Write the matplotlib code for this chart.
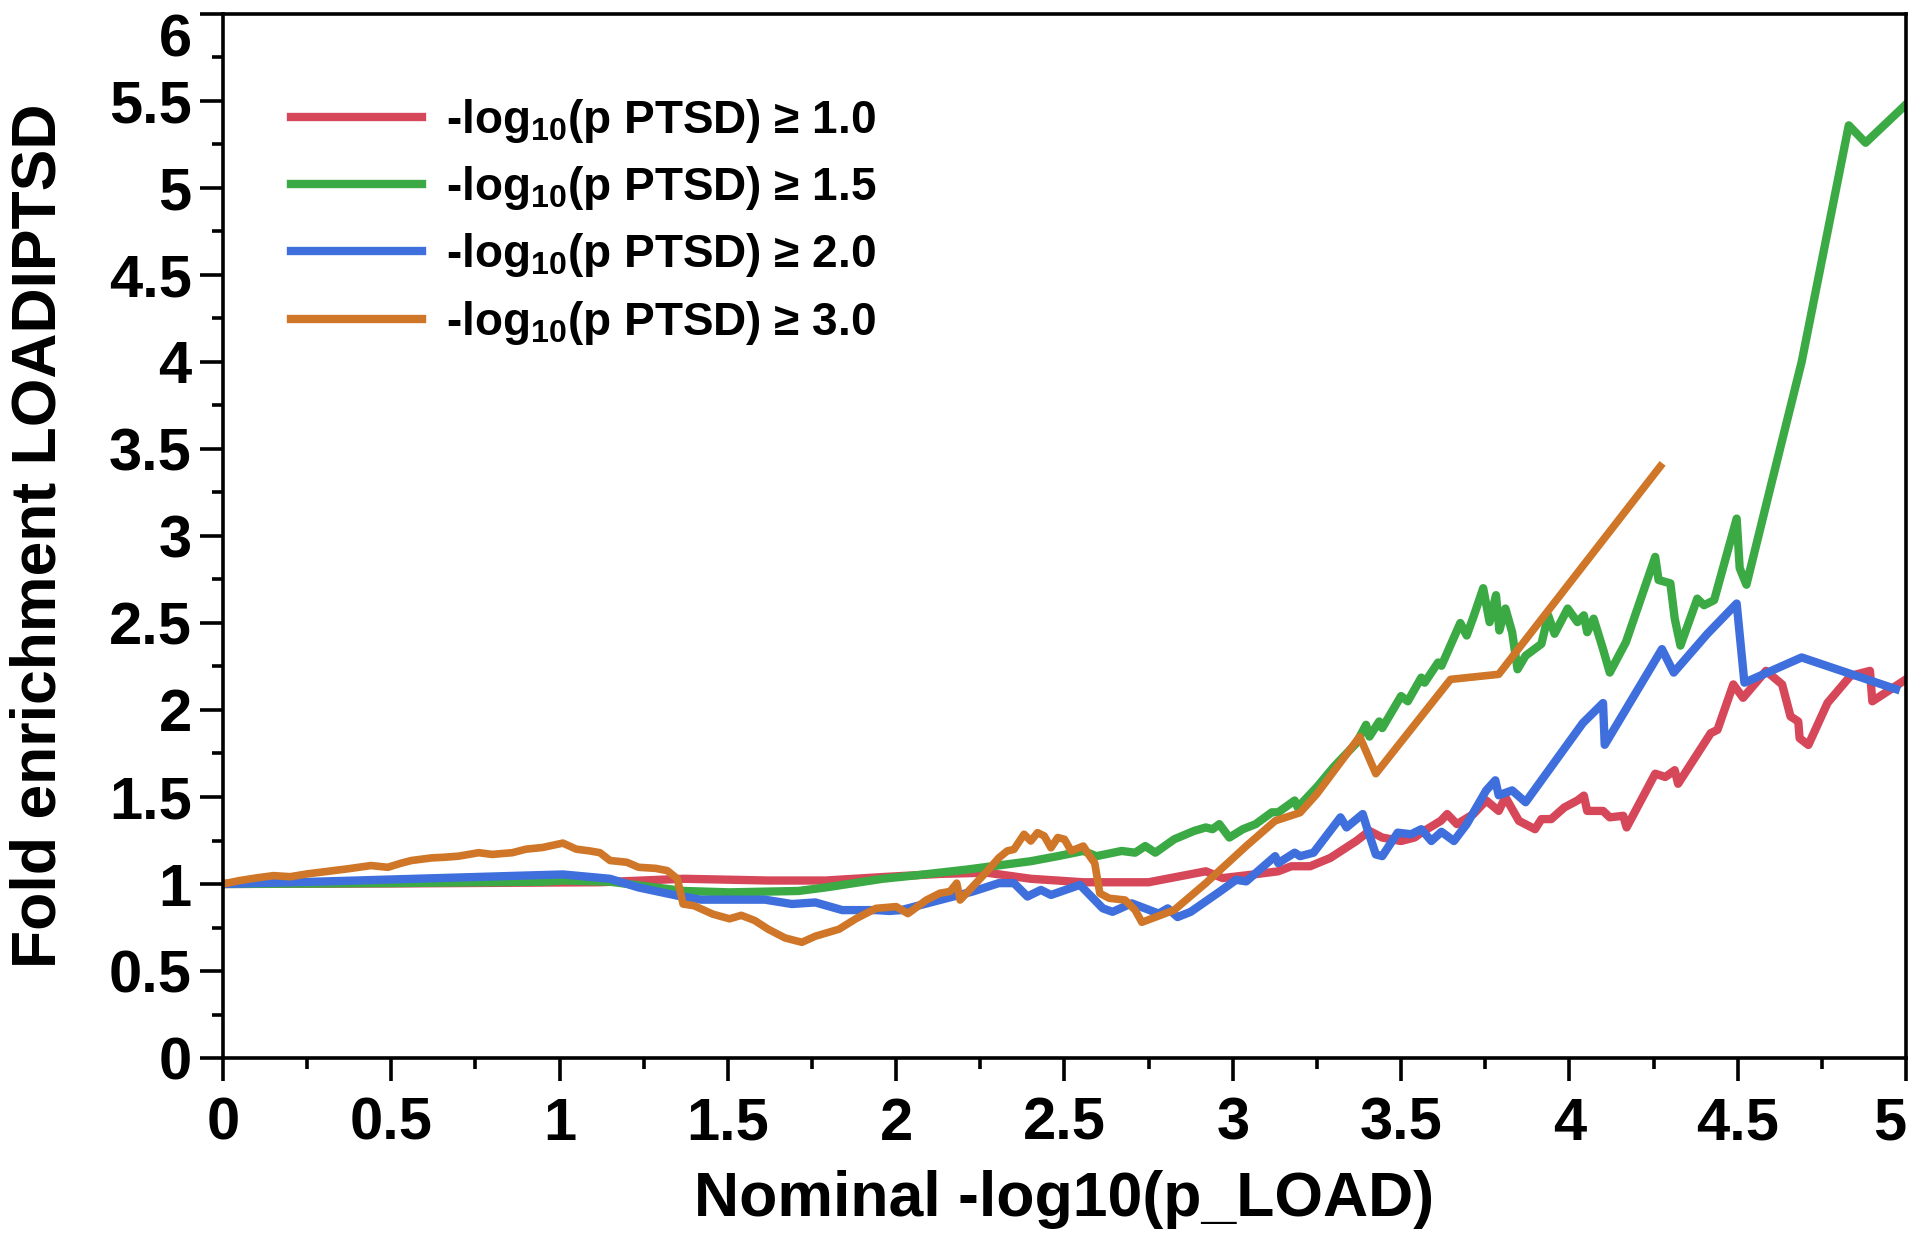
import matplotlib.pyplot as plt
from matplotlib.ticker import MultipleLocator, FormatStrFormatter

plt.rcParams['font.family'] = ['Liberation Sans', 'DejaVu Sans']
plt.rcParams['font.weight'] = 'bold'
plt.rcParams['mathtext.fontset'] = 'custom'
plt.rcParams['mathtext.rm'] = 'Liberation Sans:bold'
plt.rcParams['mathtext.default'] = 'rm'

# -log10(p PTSD) >= 1.0
x_p10 = [0, 0.5, 1.12, 1.37, 1.62, 1.79, 1.96, 2.13, 2.27, 2.40, 2.556, 2.75, 2.92,
         2.97, 3.058, 3.135, 3.174, 3.23, 3.29, 3.367, 3.406, 3.444, 3.50, 3.54, 3.56,
         3.618, 3.637, 3.666, 3.715, 3.753, 3.79, 3.81, 3.85, 3.898, 3.917, 3.946,
         3.985, 4.024, 4.043, 4.053, 4.10, 4.12, 4.16, 4.17, 4.255, 4.285, 4.313,
         4.323, 4.42, 4.44, 4.487, 4.516, 4.584, 4.632, 4.657, 4.68, 4.684, 4.71,
         4.767, 4.835, 4.893, 4.90, 5.0]
y_p10 = [1.0, 1.003, 1.01, 1.03, 1.02, 1.02, 1.04, 1.058, 1.065, 1.03, 1.01, 1.01, 1.073,
         1.034, 1.054, 1.073, 1.102, 1.102, 1.15, 1.247, 1.305, 1.267, 1.247, 1.267, 1.295,
         1.363, 1.402, 1.344, 1.402, 1.48, 1.42, 1.499, 1.363, 1.315, 1.373, 1.373,
         1.44, 1.48, 1.508, 1.42, 1.42, 1.383, 1.392, 1.325, 1.634, 1.615, 1.654,
         1.576, 1.867, 1.886, 2.147, 2.07, 2.225, 2.147, 1.963, 1.934, 1.838, 1.799,
         2.041, 2.196, 2.225, 2.05, 2.176]

# -log10(p PTSD) >= 1.5
x_p15 = [0, 0.5, 0.95, 1.01, 1.15, 1.285, 1.37, 1.505, 1.71, 1.79, 1.96, 2.06, 2.21,
         2.40, 2.48, 2.556, 2.595, 2.67, 2.71, 2.74, 2.77, 2.826, 2.885, 2.92, 2.94,
         2.96, 2.99, 3.03, 3.068, 3.116, 3.135, 3.184, 3.193, 3.25, 3.30, 3.367, 3.396,
         3.406, 3.435, 3.444, 3.50, 3.52, 3.56, 3.57, 3.61, 3.62, 3.676, 3.695, 3.715,
         3.744, 3.763, 3.782, 3.792, 3.81, 3.83, 3.846, 3.87, 3.917, 3.937, 3.956,
         3.995, 4.024, 4.043, 4.053, 4.072, 4.10, 4.12, 4.168, 4.255, 4.265, 4.30,
         4.313, 4.33, 4.38, 4.40, 4.43, 4.497, 4.506, 4.526, 4.60, 4.69, 4.83, 4.88, 5.0]
y_p15 = [1.0, 1.005, 1.013, 1.02, 1.013, 0.98, 0.96, 0.952, 0.96, 0.98, 1.03, 1.05, 1.083,
         1.131, 1.16, 1.19, 1.16, 1.19, 1.18, 1.218, 1.18, 1.257, 1.305, 1.325, 1.315,
         1.344, 1.267, 1.315, 1.344, 1.412, 1.412, 1.48, 1.44, 1.557, 1.673, 1.809, 1.915,
         1.847, 1.934, 1.896, 2.08, 2.05, 2.186, 2.157, 2.273, 2.254, 2.50, 2.428, 2.535,
         2.70, 2.505, 2.66, 2.457, 2.583, 2.447, 2.234, 2.312, 2.38, 2.544, 2.438,
         2.583, 2.505, 2.544, 2.447, 2.525, 2.35, 2.215, 2.39, 2.88, 2.747, 2.728,
         2.525, 2.37, 2.64, 2.602, 2.631, 3.1, 2.815, 2.72, 3.3, 4.0, 5.36, 5.26, 5.48]

# -log10(p PTSD) >= 2.0
x_p20 = [0, 0.27, 1.01, 1.15, 1.235, 1.35, 1.42, 1.61, 1.69, 1.76, 1.84, 1.94, 1.98,
         2.015, 2.13, 2.228, 2.305, 2.35, 2.39, 2.43, 2.46, 2.546, 2.614, 2.643, 2.70,
         2.78, 2.807, 2.836, 2.875, 2.962, 3.01, 3.04, 3.126, 3.135, 3.184, 3.20, 3.24,
         3.32, 3.338, 3.386, 3.40, 3.425, 3.444, 3.49, 3.53, 3.56, 3.59, 3.62, 3.657,
         3.695, 3.753, 3.78, 3.79, 3.83, 3.87, 4.04, 4.10, 4.105, 4.275, 4.31, 4.41,
         4.497, 4.52, 4.69, 4.97]
y_p20 = [1.0, 1.013, 1.055, 1.03, 0.98, 0.933, 0.91, 0.91, 0.885, 0.894, 0.85, 0.85, 0.845,
         0.85, 0.908, 0.957, 1.005, 1.005, 0.928, 0.966, 0.937, 0.995, 0.86, 0.84, 0.889,
         0.83, 0.86, 0.81, 0.84, 0.957, 1.024, 1.015, 1.16, 1.12, 1.18, 1.16, 1.18,
         1.383, 1.325, 1.402, 1.315, 1.17, 1.16, 1.295, 1.286, 1.315, 1.247, 1.30, 1.247,
         1.344, 1.538, 1.596, 1.51, 1.538, 1.47, 1.925, 2.04, 1.80, 2.35, 2.215, 2.438,
         2.612, 2.157, 2.302, 2.12]

# -log10(p PTSD) >= 3.0
x_p30 = [0, 0.05, 0.1, 0.15, 0.2, 0.25, 0.3, 0.37, 0.44, 0.49, 0.53, 0.56, 0.62, 0.66,
         0.7, 0.76, 0.8, 0.86, 0.9, 0.95, 1.01, 1.05, 1.09, 1.12, 1.15, 1.2, 1.235,
         1.285, 1.32, 1.35, 1.367, 1.40, 1.455, 1.505, 1.54, 1.58, 1.62, 1.67, 1.72,
         1.76, 1.83, 1.88, 1.94, 2.0, 2.035, 2.09, 2.13, 2.16, 2.18, 2.19, 2.27, 2.305,
         2.33, 2.35, 2.38, 2.40, 2.42, 2.44, 2.46, 2.48, 2.50, 2.52, 2.556, 2.575, 2.59,
         2.605, 2.633, 2.68, 2.71, 2.73, 2.826, 2.92, 3.04, 3.126, 3.20, 3.25, 3.377,
         3.425, 3.647, 3.79, 4.27]
y_p30 = [1.0, 1.02, 1.035, 1.048, 1.042, 1.058, 1.07, 1.087, 1.106, 1.096, 1.12, 1.135,
         1.15, 1.154, 1.16, 1.18, 1.17, 1.18, 1.2, 1.21, 1.235, 1.20, 1.19, 1.18, 1.135,
         1.125, 1.096, 1.09, 1.077, 1.03, 0.885, 0.875, 0.827, 0.80, 0.82, 0.79, 0.74,
         0.69, 0.665, 0.70, 0.74, 0.80, 0.86, 0.87, 0.83, 0.908, 0.947, 0.957, 1.005,
         0.908, 1.073, 1.15, 1.19, 1.199, 1.286, 1.247, 1.295, 1.276, 1.208, 1.267, 1.257,
         1.19, 1.218, 1.16, 1.12, 0.947, 0.918, 0.908, 0.85, 0.78, 0.85, 1.005, 1.218,
         1.363, 1.41, 1.518, 1.847, 1.634, 2.176, 2.205, 3.40]

series = [
    (x_p10, y_p10, '#D6475A', 6, r'-log$_{10}$(p PTSD) ≥ 1.0'),
    (x_p15, y_p15, '#3BAA45', 6, r'-log$_{10}$(p PTSD) ≥ 1.5'),
    (x_p20, y_p20, '#3F6FDC', 6, r'-log$_{10}$(p PTSD) ≥ 2.0'),
    (x_p30, y_p30, '#CF7628', 5.5, r'-log$_{10}$(p PTSD) ≥ 3.0'),
]
x_ticks = [0, 0.5, 1, 1.5, 2, 2.5, 3, 3.5, 4, 4.5, 5]
y_ticks = [0, 0.5, 1, 1.5, 2, 2.5, 3, 3.5, 4, 4.5, 5, 5.5, 6]

fig = plt.figure(figsize=(19.2, 12.37), dpi=100)
ax = fig.add_axes([0.1161, 0.1447, 0.8766, 0.844])

for xs, ys, color, lw, label in series:
    ax.plot(xs, ys, color=color, lw=lw, label=label)

ax.set_xlim(0, 5)
ax.set_ylim(0, 6)
ax.set_xticks(x_ticks)
ax.set_yticks(y_ticks)
ax.xaxis.set_minor_locator(MultipleLocator(0.25))
ax.yaxis.set_minor_locator(MultipleLocator(0.25))
ax.xaxis.set_major_formatter(FormatStrFormatter('%g'))
ax.yaxis.set_major_formatter(FormatStrFormatter('%g'))

for s in ax.spines.values():
    s.set_linewidth(2.6)
ax.tick_params(which='major', direction='out', length=16.5, width=2.6, labelsize=43)
ax.tick_params(which='minor', direction='out', length=8, width=2.6)
ax.tick_params(axis='x', which='major', pad=11.5)
ax.tick_params(axis='y', which='major', pad=6)

# edge labels kept inside the figure
ax.yaxis.get_major_ticks()[-1].label1.set_verticalalignment('top')
ax.xaxis.get_major_ticks()[-1].label1.set_horizontalalignment('right')

ax.set_xlabel('Nominal -log10(p_LOAD)', fontsize=45, fontweight='bold', labelpad=13)
ax.set_ylabel('Fold enrichment LOADIPTSD', fontsize=45, fontweight='bold')
ax.yaxis.set_label_coords(-0.092, 0.5)

leg = ax.legend(loc='upper left', bbox_to_anchor=(0.0404, 0.9205), frameon=False,
                fontsize=33, handlelength=2.85, handletextpad=0.53,
                labelspacing=0.42, borderpad=0, borderaxespad=0)
for line in leg.get_lines():
    line.set_linewidth(6)

fig.savefig('out.png', dpi=100)
